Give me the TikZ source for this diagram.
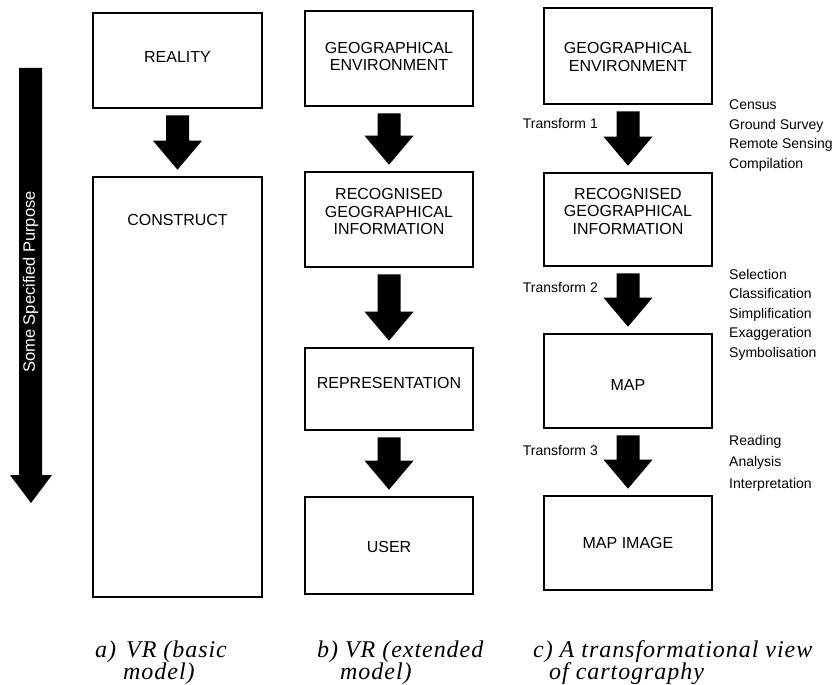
\documentclass[tikz,border=0pt]{standalone}
\usepackage{fontspec}
\setmainfont{Liberation Sans}
\newfontfamily\capfont[LetterSpace=4]{Liberation Serif}
\usetikzlibrary{calc}
\tikzset{
  box/.style={draw, line width=1.6pt, inner sep=0pt, minimum width=168pt},
  boxtext/.style={font=\fontsize{16}{17.5}\selectfont, align=center, inner sep=0pt},
  side/.style={font=\fontsize{14}{19.5}\selectfont, inner sep=0pt},
  caption/.style={font=\capfont\itshape\fontsize{24}{26}\selectfont, inner sep=0pt, anchor=base west},
}
\newcommand\blockarrow[2]{%
  \fill ($(#1.south)+(-11.5,6.5)$) -- ($(#1.south)+(11.5,6.5)$)
    -- ($(#2.north)+(11.5,-35.5)$) -- ($(#2.north)+(24.5,-35.5)$)
    -- ($(#2.north)+(0,-6.5)$)
    -- ($(#2.north)+(-24.5,-35.5)$) -- ($(#2.north)+(-11.5,-35.5)$) -- cycle;}
\begin{document}
\begin{tikzpicture}[x=1pt,y=-1pt]
\useasboundingbox (0,0) rectangle (836,685);
% big left arrow
\fill (19,68) -- (42,68) -- (42,475) -- (52,475) -- (31,503) -- (10,475) -- (19,475) -- cycle;
\node[font=\fontsize{16.5}{18}\selectfont, text=white, rotate=90, inner sep=0pt] (purpose) at (30.5,282) {Some Specified Purpose};
% column a
\node[box, minimum width=169pt, minimum height=95pt, label={[boxtext, yshift=3.5pt]center:REALITY}] (reality) at (177.5,60.5) {};
\node[box, minimum width=169pt, minimum height=420pt, label={[boxtext, yshift=167pt]center:CONSTRUCT}] (construct) at (177.5,387) {};
\blockarrow{reality}{construct}
% column b
\node[box, minimum height=95pt, label={[boxtext, yshift=2pt]center:{GEOGRAPHICAL\\ENVIRONMENT}}] (geb) at (389,58.5) {};
\node[box, minimum height=95pt, label={[boxtext, yshift=8pt]center:{RECOGNISED\\GEOGRAPHICAL\\INFORMATION}}] (rgib) at (389,219.5) {};
\node[box, minimum height=82pt, label={[boxtext, yshift=6pt]center:REPRESENTATION}] (rep) at (389,389) {};
\node[box, minimum height=97pt, label={[boxtext, yshift=-1.5pt]center:USER}] (user) at (389,545.5) {};
\blockarrow{geb}{rgib}
\blockarrow{rgib}{rep}
\blockarrow{rep}{user}
% column c
\node[box, minimum height=96pt, label={[boxtext, yshift=-1pt]center:{GEOGRAPHICAL\\ENVIRONMENT}}] (gec) at (628,56) {};
\node[box, minimum height=93pt, label={[boxtext, yshift=8.5pt]center:{RECOGNISED\\GEOGRAPHICAL\\INFORMATION}}] (rgic) at (628,219.5) {};
\node[box, minimum height=94pt, label={[boxtext, yshift=-4pt]center:MAP}] (map) at (628,381) {};
\node[box, minimum height=94pt, label={[boxtext]center:MAP IMAGE}] (mapimage) at (628,543) {};
\blockarrow{gec}{rgic}
\blockarrow{rgic}{map}
\blockarrow{map}{mapimage}
% transform labels
\node[side, anchor=east] (t1) at (598,124) {Transform 1};
\node[side, anchor=east] (t2) at (598,288) {Transform 2};
\node[side, anchor=east] (t3) at (598,450) {Transform 3};
% process lists
\node[side, anchor=north west, align=left] (l1) at (729,100) {Census\\Ground Survey\\Remote Sensing\\Compilation};
\node[side, anchor=north west, align=left] (l2) at (729,269) {Selection\\Classification\\Simplification\\Exaggeration\\Symbolisation};
\node[side, anchor=north west, align=left, font=\fontsize{14}{21.5}\selectfont] (l3) at (729,435) {Reading\\Analysis\\Interpretation};
% captions
\node[caption] (ca1) at (95,657) {a)\hspace{10pt}VR (basic};
\node[caption] (ca2) at (123,679) {model)};
\node[caption] (cb1) at (317,657) {b) VR (extended};
\node[caption] (cb2) at (340,679) {model)};
\node[caption] (cc1) at (533,657) {c) A transformational view};
\node[caption] (cc2) at (549,679) {of cartography};
\end{tikzpicture}
\end{document}
